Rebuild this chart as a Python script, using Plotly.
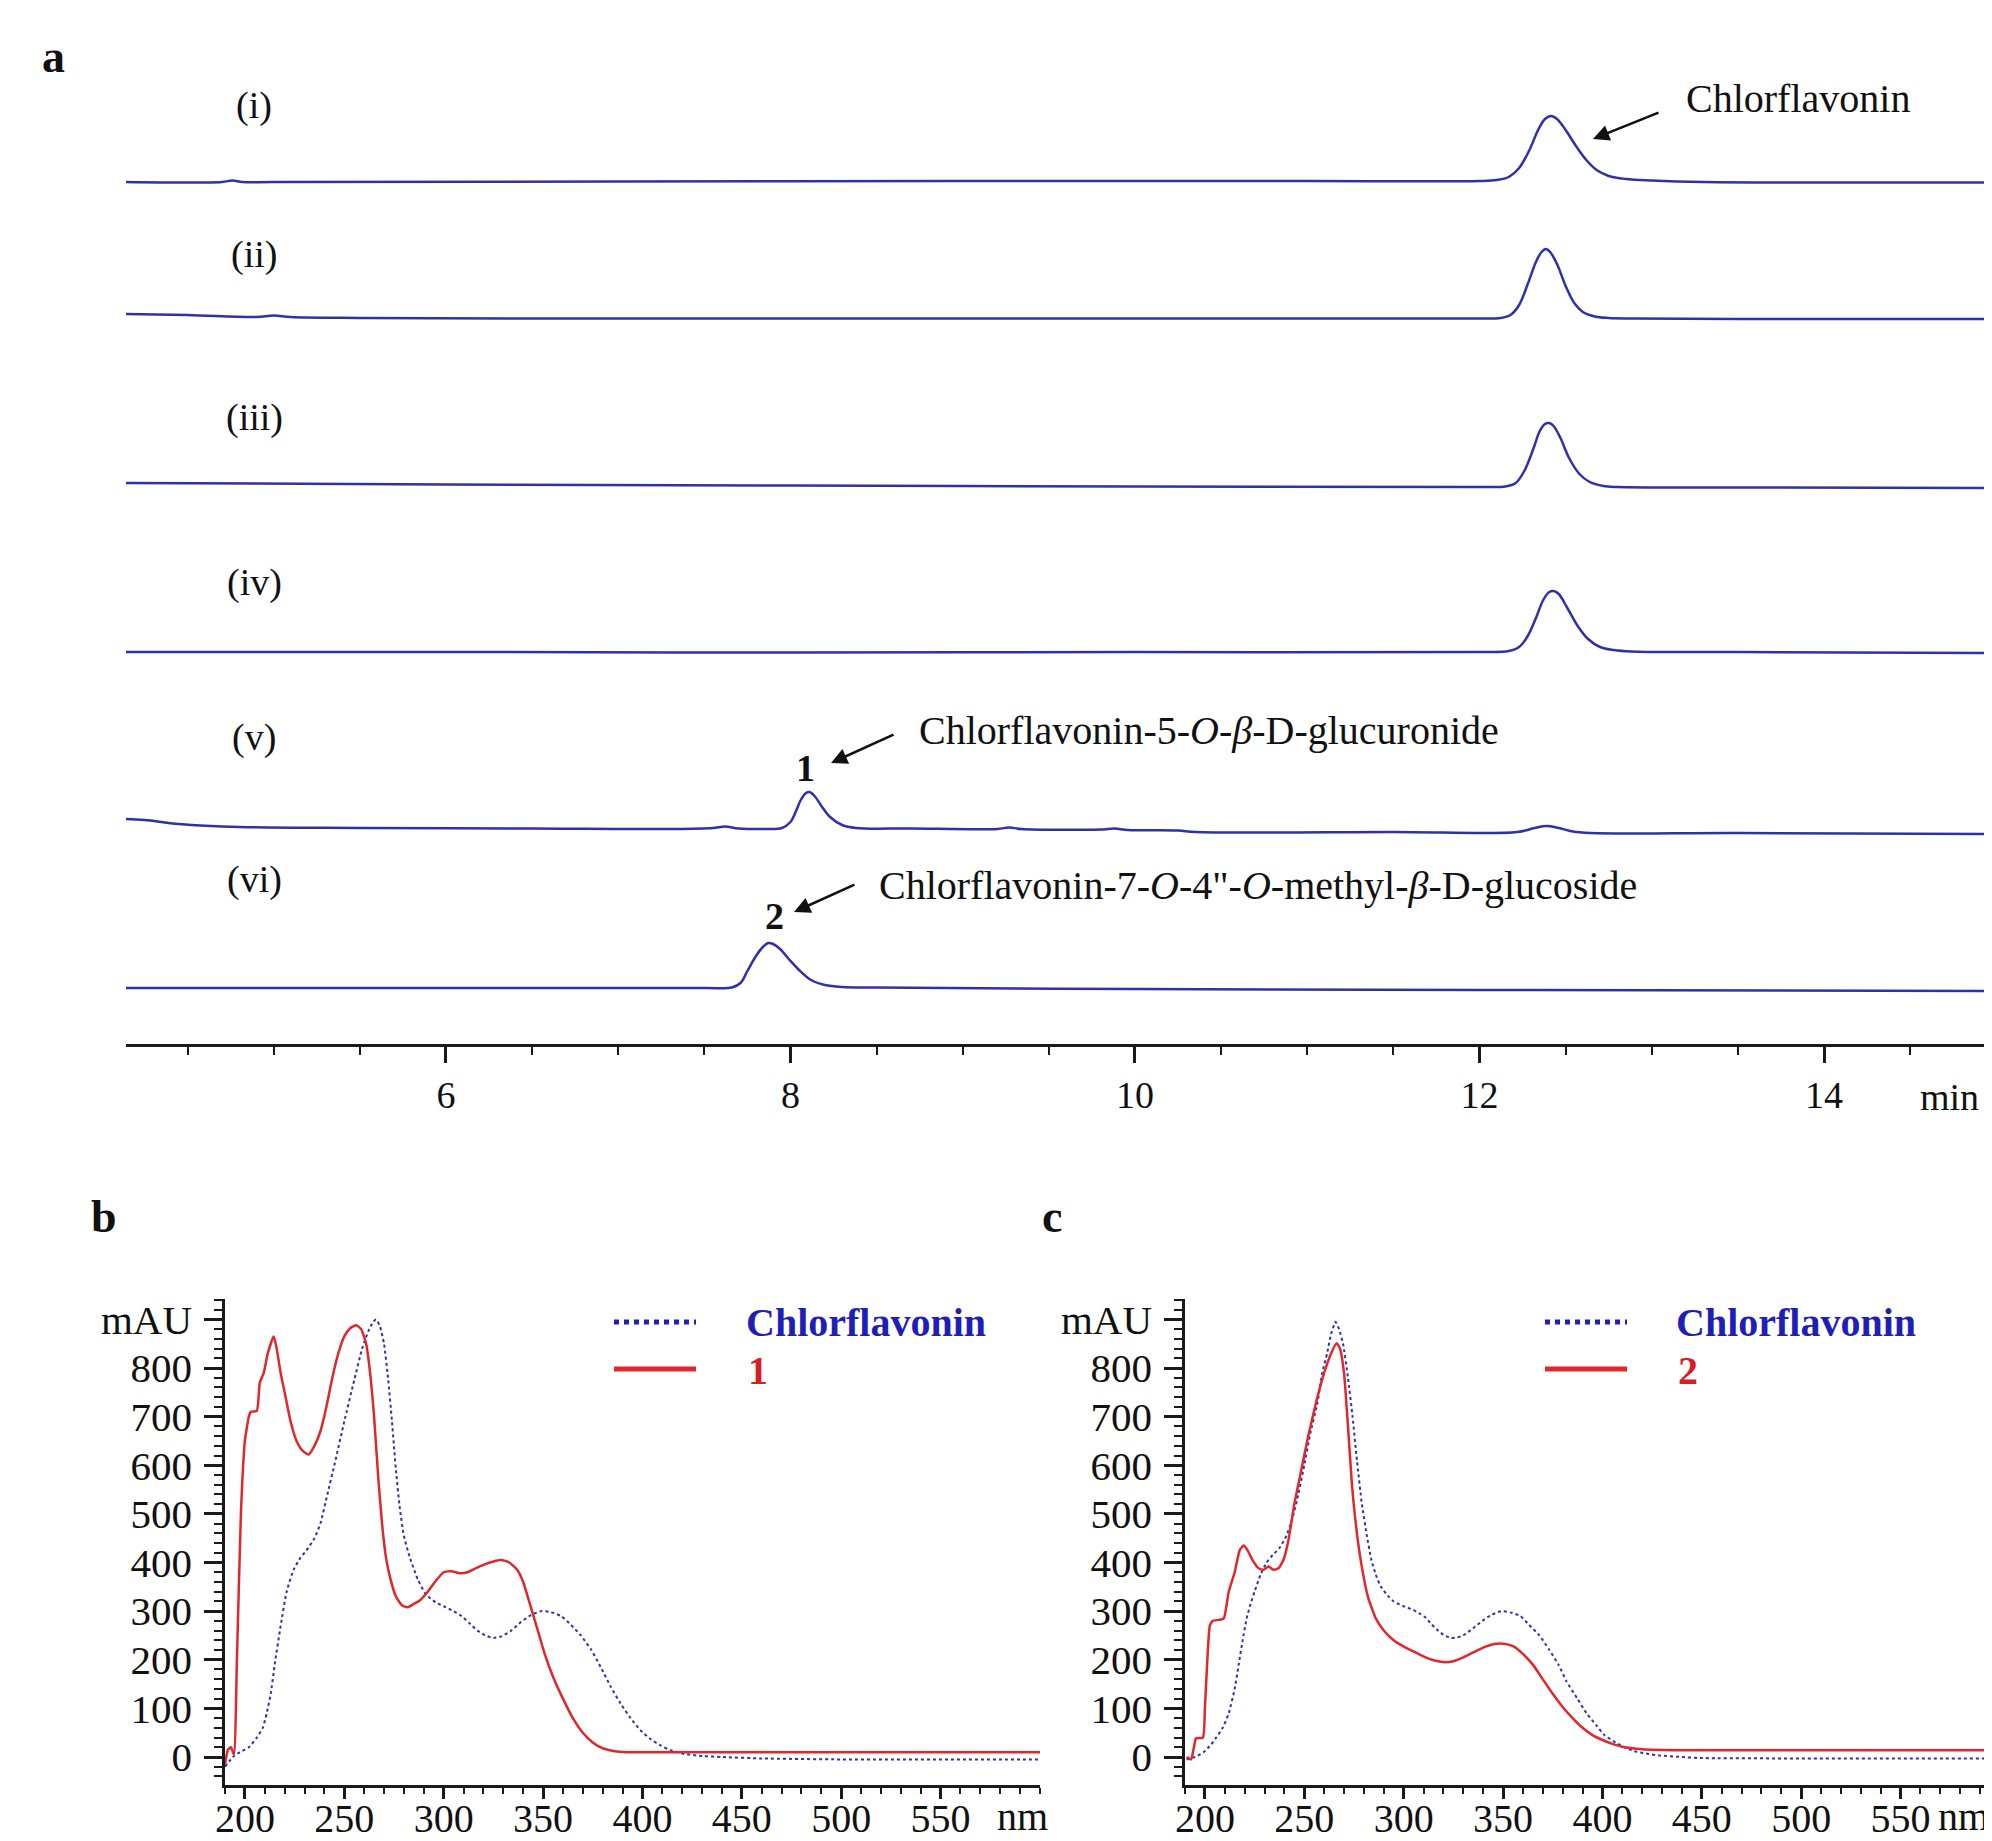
import plotly.graph_objects as go

# The page body has an 8px margin, so the figure is sized to fill the rest of the window
OFF = 8
W, H = 1992 - OFF, 1841 - OFF
SERIF = "Liberation Serif, Times New Roman, serif"

def px(x):
    return (x - OFF) / W

def py(y):
    return 1 - (y - OFF) / H

# ---------------- Panel a: HPLC chromatograms (time in min, signal relative to own baseline)
trace_labels = ["(i)", "(ii)", "(iii)", "(iv)", "(v)", "(vi)"]
offsets = [862, 725, 556, 392, 212, 53]

t_i = [4.14, 4.7, 4.76, 4.82, 5.0, 7.0, 9.0, 11.0, 12.0, 12.1, 12.17, 12.23, 12.29, 12.34, 12.38, 12.415, 12.45, 12.5, 12.56, 12.62, 12.68, 12.75, 12.85, 13.0, 13.3, 14.0, 15.0]
s_i = [0, 0, 1.5, 0, 0, 0.5, 1, 1, 1, 2, 5, 14, 32, 52, 63, 66, 63, 52, 36, 22, 12, 6, 3, 1.5, 0, -0.5, -0.5]

t_ii = [4.14, 4.5, 4.9, 5.0, 5.1, 5.5, 6.5, 8, 10, 12.0, 12.12, 12.18, 12.23, 12.28, 12.33, 12.36, 12.385, 12.41, 12.45, 12.5, 12.55, 12.6, 12.67, 12.75, 12.9, 13.5, 15.0]
s_ii = [5, 4, 2, 3.5, 2, 1, 0.5, 0.5, 0.5, 0.5, 1, 4, 14, 35, 58, 67, 70, 67, 55, 33, 16, 7, 2.5, 1, 0.5, 0, 0]

t_iii = [4.14, 6, 8, 10, 12.0, 12.15, 12.21, 12.26, 12.31, 12.35, 12.38, 12.405, 12.43, 12.47, 12.52, 12.58, 12.64, 12.72, 12.8, 13.5, 15]
s_iii = [5, 3.5, 2.5, 1.5, 1, 1.5, 5, 17, 38, 57, 64, 65, 62, 50, 30, 14, 6, 2, 1, 0.5, 0]

t_iv = [4.14, 6, 8, 10, 12.0, 12.17, 12.23, 12.28, 12.33, 12.37, 12.405, 12.43, 12.46, 12.51, 12.57, 12.63, 12.7, 12.78, 12.88, 13.5, 15]
s_iv = [0, 0, -0.5, 0, 0, 1, 5, 16, 35, 52, 60, 61, 58, 44, 26, 13, 5, 2, 0.5, 0, -1]

t_v = [4.14, 4.25, 4.45, 4.8, 5.5, 6.5, 7.3, 7.55, 7.62, 7.7, 7.85, 7.95, 8.0, 8.03, 8.06, 8.09, 8.11, 8.14, 8.18, 8.23, 8.3, 8.38, 8.7, 9.2, 9.27, 9.34, 9.8, 9.88, 9.96, 10.25, 10.35, 11.5, 12.22, 12.32, 12.39, 12.46, 12.56, 13.5, 15]
s_v = [13, 12, 8, 5, 4, 3.5, 3, 4, 5.5, 3.5, 3, 4, 10, 20, 32, 39, 40, 36, 26, 15, 7, 4, 3.5, 3, 4.5, 3, 2.5, 3.5, 2, 1.5, 0, 0, 0, 4, 6, 4, 0, -1, -2]

t_vi = [4.14, 6, 7.5, 7.66, 7.71, 7.75, 7.8, 7.84, 7.87, 7.9, 7.94, 7.99, 8.05, 8.12, 8.2, 8.3, 8.5, 10, 12, 15]
s_vi = [3, 3, 3, 3.5, 8, 20, 35, 44, 48, 47, 42, 32, 21, 11, 6, 4, 3.5, 2, 1, 0]

chrom_t = [t_i, t_ii, t_iii, t_iv, t_v, t_vi]
chrom_s = [s_i, s_ii, s_iii, s_iv, s_v, s_vi]

# ---------------- Panel b: UV spectra (nm, mAU)
wl_b_chl = [190, 194, 197.5, 202, 206, 209, 211, 213, 215, 218, 221, 224.5, 228, 231, 235, 238, 241.5, 245, 250, 255, 259, 262, 264.5, 266, 268, 270, 272, 274, 276, 278, 280, 283, 287, 291, 296, 300, 305, 309, 313, 317, 321, 325, 329, 334, 339, 344, 349, 354, 359, 364, 369, 374, 379, 384, 389, 394, 399, 404, 409, 414, 420, 430, 440, 460, 500, 600]
mau_b_chl = [-20, 0, 10, 20, 40, 60, 90, 130, 190, 270, 340, 385, 410, 425, 450, 480, 540, 600, 690, 775, 840, 875, 895, 900, 885, 850, 780, 690, 590, 510, 455, 410, 365, 335, 318, 310, 300, 290, 275, 260, 250, 245, 248, 260, 278, 292, 300, 298, 290, 272, 250, 222, 185, 145, 110, 80, 55, 37, 24, 14, 7, 2, 0, -3, -5, -5]

wl_b_1 = [190, 191.5, 193, 194.5, 196, 198, 200, 202, 203, 206, 207.5, 209.5, 211.5, 214.5, 216, 218, 220, 223, 226, 229, 232, 235, 238, 241, 244, 247, 250, 253, 256, 258.5, 261, 263, 265, 267, 269, 271, 273, 276, 279, 282, 285, 288, 292, 296, 300, 304, 308, 312, 316, 320, 325, 329, 333, 337, 340, 343, 347, 351, 355, 360, 365, 370, 375, 380, 386, 392, 400, 450, 500, 550, 600]
mau_b_1 = [-15, 15, 20, 5, 200, 500, 650, 700, 710, 712, 770, 790, 830, 865, 840, 790, 750, 690, 650, 630, 622, 640, 670, 720, 780, 830, 865, 882, 888, 880, 850, 790, 700, 580, 480, 410, 370, 330, 312, 308, 315, 322, 340, 362, 380, 382, 378, 380, 388, 395, 402, 405, 400, 385, 360, 320, 265, 210, 165, 120, 80, 50, 30, 18, 12, 10, 10, 10, 10, 10, 10]

# ---------------- Panel c: UV spectra (nm, mAU)
wl_c_chl = [190.8, 195, 199.4, 203, 205.7, 209, 212, 215, 217, 219, 221, 223, 225, 228, 231, 234, 237.6, 241, 244, 247, 250, 253, 256.7, 259, 261.5, 263.5, 265.7, 267.5, 269.5, 272, 274.3, 276.5, 279, 281.5, 283.8, 286, 288.6, 292, 295, 300, 304.6, 308, 311, 314, 317.3, 320.5, 323.7, 327, 330, 335, 339.6, 344, 349, 354, 358.7, 363, 368.3, 373, 377.9, 382, 387.4, 392, 397, 401, 406.6, 411, 416, 422, 428.9, 440, 448, 500, 600]
mau_c_chl = [-5, 0, 10, 25, 40, 60, 90, 140, 190, 240, 285, 315, 340, 375, 400, 415, 430, 455, 490, 540, 600, 665, 730, 790, 830, 870, 895, 880, 850, 780, 700, 610, 520, 455, 405, 375, 350, 332, 320, 310, 303, 295, 287, 273, 260, 250, 245, 246, 250, 265, 280, 292, 300, 297, 290, 272, 250, 222, 190, 155, 120, 90, 65, 45, 30, 20, 12, 7, 3, 0, -2, -3, -3]

wl_c_2 = [190.8, 193, 194.5, 195.5, 199, 200, 201.5, 202.5, 204, 207, 209.5, 212, 215, 217.5, 219.5, 221.5, 224, 227, 229.5, 232, 234.5, 237, 239.5, 242, 245, 248, 252, 256, 260, 263.5, 266.3, 268, 270, 272, 274, 276.5, 279, 282, 286, 290, 295, 301, 306, 311, 316, 321, 325, 330, 335, 340, 345, 350, 355, 360, 365, 370, 375, 380, 385, 390, 395, 400, 405, 410, 420, 440, 500, 600]
mau_c_2 = [0, -5, 20, 38, 40, 100, 220, 270, 280, 282, 285, 340, 380, 425, 435, 425, 405, 388, 385, 392, 385, 388, 405, 445, 520, 580, 660, 730, 790, 830, 851, 840, 790, 680, 560, 460, 390, 330, 285, 260, 240, 225, 215, 205, 198, 195, 197, 205, 215, 225, 232, 233, 228, 212, 190, 160, 130, 103, 80, 60, 45, 35, 27, 21, 16, 14, 14, 14]

mau_tickvals = [0, 100, 200, 300, 400, 500, 600, 700, 800, 900]
mau_ticktext = ["0", "100", "200", "300", "400", "500", "600", "700", "800", "mAU"]
nm_ticks = [200, 250, 300, 350, 400, 450, 500, 550]

BLUE = "#3030a8"
RED = "#e0282c"
DOTBLUE = "#3030b0"
AXC = "#1a1a1a"

fig = go.Figure()

for t, s, off in zip(chrom_t, chrom_s, offsets):
    fig.add_trace(go.Scatter(
        x=t, y=[off + v for v in s], mode="lines",
        line=dict(color=BLUE, width=2.5, shape="spline", smoothing=1.0),
        xaxis="x", yaxis="y", hoverinfo="skip"))

fig.add_trace(go.Scatter(x=wl_b_chl, y=mau_b_chl, mode="lines",
                         line=dict(color=DOTBLUE, width=2, dash="dot", shape="spline", smoothing=0.5),
                         xaxis="x2", yaxis="y2"))
fig.add_trace(go.Scatter(x=wl_b_1, y=mau_b_1, mode="lines",
                         line=dict(color=RED, width=2.5, shape="spline", smoothing=0.5),
                         xaxis="x2", yaxis="y2"))
fig.add_trace(go.Scatter(x=wl_c_chl, y=mau_c_chl, mode="lines",
                         line=dict(color=DOTBLUE, width=2, dash="dot", shape="spline", smoothing=0.5),
                         xaxis="x3", yaxis="y3"))
fig.add_trace(go.Scatter(x=wl_c_2, y=mau_c_2, mode="lines",
                         line=dict(color=RED, width=2.5, shape="spline", smoothing=0.5),
                         xaxis="x3", yaxis="y3"))

tickfont_a = dict(family=SERIF, size=38, color="#111")
tickfont_bc = dict(family=SERIF, size=41, color="#111")
tickfont_nm = dict(family=SERIF, size=40, color="#111")

def nm_axis(domain, rng, anchor):
    return dict(domain=domain, range=rng, anchor=anchor, automargin=False,
                showline=True, linecolor=AXC, linewidth=2.5, showgrid=False, zeroline=False,
                tickmode="array", tickvals=nm_ticks, ticks="outside", ticklen=11, tickwidth=2.5,
                tickcolor=AXC, tickfont=tickfont_nm, ticklabelstandoff=-15,
                minor=dict(tickmode="linear", tick0=0, dtick=10, ticks="outside", ticklen=6,
                           tickwidth=2, tickcolor=AXC))

def mau_axis(anchor):
    return dict(domain=[py(1785), py(1299)], range=[-57.6, 942], anchor=anchor, automargin=False,
                showline=True, linecolor=AXC, linewidth=2.5, showgrid=False, zeroline=False,
                tickmode="array", tickvals=mau_tickvals, ticktext=mau_ticktext,
                ticks="outside", ticklen=18, tickwidth=2.5, tickcolor=AXC, tickfont=tickfont_bc,
                ticklabelstandoff=4,
                minor=dict(tickmode="linear", tick0=0, dtick=20, ticks="outside", ticklen=8,
                           tickwidth=2, tickcolor=AXC))

fig.update_layout(
    xaxis=dict(domain=[px(126), 1.0], range=[4.143, 14.975], anchor="y", automargin=False,
               showline=True, linecolor=AXC, linewidth=2.5, showgrid=False, zeroline=False,
               tickmode="linear", tick0=0, dtick=2, ticks="outside", ticklen=16, tickwidth=2.5,
               tickcolor=AXC, tickfont=tickfont_a, ticklabelstandoff=0,
               minor=dict(tickmode="linear", tick0=0, dtick=0.5, ticks="outside", ticklen=8,
                          tickwidth=2, tickcolor=AXC)),
    yaxis=dict(domain=[py(1044), py(100)], range=[0, 944], visible=False, anchor="x"),
    xaxis2=nm_axis([px(225), px(1040)], [190, 600], "y2"),
    yaxis2=mau_axis("x2"),
    xaxis3=nm_axis([px(1185), 1.0], [190, 596], "y3"),
    yaxis3=mau_axis("x3"),
)

ann = []

def text(x, y, s, size=38, color="#111", anchor="center", bold=False):
    ann.append(dict(xref="paper", yref="paper", x=px(x), y=py(y), text=("<b>%s</b>" % s) if bold else s,
                    showarrow=False, xanchor=anchor, yanchor="middle",
                    font=dict(family=SERIF, size=size, color=color)))

def arrow(hx, hy, tx, ty):
    ann.append(dict(xref="paper", yref="paper", x=px(hx), y=py(hy), ax=tx - hx, ay=ty - hy,
                    axref="pixel", ayref="pixel", text="", showarrow=True,
                    arrowhead=2, arrowsize=1.3, arrowwidth=2.5, arrowcolor="#111", standoff=0))

# panel letters
text(53, 57, "a", size=46, bold=True)
text(104, 1216, "b", size=46, bold=True)
text(1052, 1216, "c", size=46, bold=True)

# trace labels
label_y = [105, 255, 417, 582, 738, 880]
for lab, yy in zip(trace_labels, label_y):
    text(254, yy, lab)

# compound annotations
text(1684, 98, "Chlorflavonin", anchor="left", size=40)
arrow(1593, 139, 1660, 112)
text(805, 768, "1", bold=True)
arrow(831, 763, 895, 734)
text(917, 730, "Chlorflavonin-5-<i>O</i>-<i>β</i>-D-glucuronide", anchor="left", size=40)
text(774, 916, "2", bold=True)
arrow(794, 912, 856, 884)
text(877, 885, "Chlorflavonin-7-<i>O</i>-4\"-<i>O</i>-methyl-<i>β</i>-D-glucoside", anchor="left", size=40)

# axis unit labels
text(1918, 1097, "min", anchor="left")
text(995, 1816, "nm", anchor="left", size=40)
text(1936, 1816, "nm", anchor="left", size=40)

# legends
text(744, 1322, "Chlorflavonin", anchor="left", size=40, color="#1f1fb8", bold=True)
text(746, 1370, "1", anchor="left", size=40, color="#d81e1e", bold=True)
text(1674, 1322, "Chlorflavonin", anchor="left", size=40, color="#1f1fb8", bold=True)
text(1676, 1370, "2", anchor="left", size=40, color="#d81e1e", bold=True)

shapes = []
for x0 in [614, 1545]:
    shapes.append(dict(type="line", xref="paper", yref="paper", x0=px(x0), x1=px(x0 + 82),
                       y0=py(1322), y1=py(1322), line=dict(color="#2020b0", width=5, dash="dot")))
    shapes.append(dict(type="line", xref="paper", yref="paper", x0=px(x0), x1=px(x0 + 82),
                       y0=py(1369), y1=py(1369), line=dict(color=RED, width=5)))

fig.update_layout(
    width=W, height=H, margin=dict(l=0, r=0, t=0, b=0, autoexpand=False),
    paper_bgcolor="white", plot_bgcolor="white", showlegend=False,
    annotations=ann, shapes=shapes,
)

fig.write_html("out.html")
